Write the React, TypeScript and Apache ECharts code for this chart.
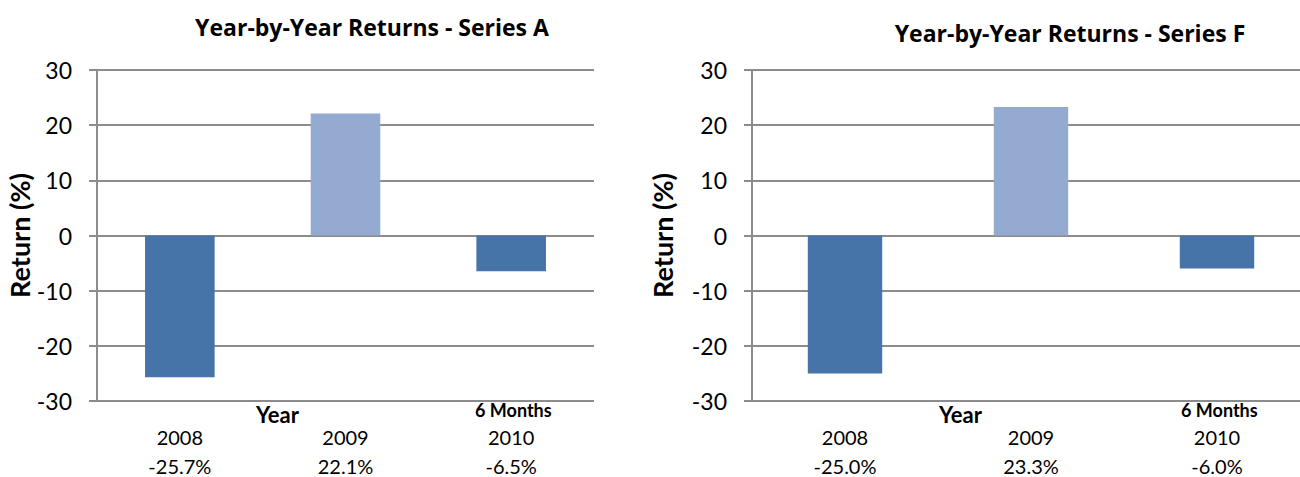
import React, { useEffect, useRef } from "react";
import * as echarts from "echarts";

const years = ["2008", "2009", "2010"];
const returnsA = [-25.7, 22.1, -6.5];
const returnsF = [-25.0, 23.3, -6.0];
const titles = ["Year-by-Year Returns - Series A", "Year-by-Year Returns - Series F"];
const yTicks = { min: -30, max: 30, interval: 10 };

const DARK = "#4673A8";
const LIGHT = "#95AAD1";
const GRID = "#8C8C8C";
const FONT = "Lato";
const TFONT = "'Open Sans'";

export default function App() {
  const ref = useRef<HTMLDivElement>(null);
  useEffect(() => {
    document.body.style.margin = "0";
    const chart = echarts.init(ref.current!, null, { renderer: "svg" });
    const grids = [
      { left: 97, top: 70, width: 497, height: 331, outerBoundsMode: "none", containLabel: false },
      { left: 752, top: 70, width: 558, height: 331, outerBoundsMode: "none", containLabel: false },
    ];
    const datasets = [returnsA, returnsF];
    const colors = [DARK, LIGHT, DARK];
    const option: any = {
      animation: false,
      textStyle: { fontFamily: FONT },
      title: [
        { text: titles[0], left: 367, top: 10, textAlign: "center", textStyle: { fontFamily: TFONT, fontSize: 23, fontWeight: "bold", color: "#000" } },
        { text: titles[1], left: 1065, top: 16, textAlign: "center", textStyle: { fontFamily: TFONT, fontSize: 23, fontWeight: "bold", color: "#000" } },
      ],
      grid: grids,
      xAxis: datasets.map((vals, i) => ({
        type: "category",
        gridIndex: i,
        data: years,
        position: "bottom",
        axisLine: { show: false },
        axisTick: { show: false },
        axisLabel: {
          margin: 21,
          fontFamily: FONT,
          fontSize: 20,
          color: "#000",
          lineHeight: 29,
          formatter: (v: string, idx: number) => `${v}\n${vals[idx].toFixed(1)}%`,
        },
      })),
      yAxis: datasets.map((_, i) => ({
        type: "value",
        gridIndex: i,
        min: yTicks.min,
        max: yTicks.max,
        interval: yTicks.interval,
        name: "Return (%)",
        nameLocation: "middle",
        nameGap: i === 0 ? 62 : 76,
        nameTextStyle: { fontFamily: FONT, fontSize: 27, fontWeight: "bold", color: "#000" },
        axisLine: { show: true, onZero: false, lineStyle: { color: GRID, width: 2 } },
        axisTick: { show: true, length: 8, lineStyle: { color: GRID, width: 2 } },
        axisLabel: { fontFamily: FONT, fontSize: 23, color: "#000", margin: 25 },
        splitLine: { show: true, lineStyle: { color: GRID, width: 2 } },
      })),
      series: datasets.map((vals, i) => ({
        type: "bar",
        xAxisIndex: i,
        yAxisIndex: i,
        barWidth: i === 0 ? "42%" : "40%",
        data: vals.map((v, j) => ({ value: v, itemStyle: { color: colors[j] } })),
      })),
      graphic: [
        { type: "text", left: 256, top: 403, style: { text: "Year", font: `bold 22px ${FONT}`, fill: "#000" } },
        { type: "text", left: 475, top: 401, style: { text: "6 Months", font: `bold 18px ${FONT}`, fill: "#000" } },
        { type: "text", left: 939, top: 403, style: { text: "Year", font: `bold 22px ${FONT}`, fill: "#000" } },
        { type: "text", left: 1181, top: 401, style: { text: "6 Months", font: `bold 18px ${FONT}`, fill: "#000" } },
      ],
    };
    chart.setOption(option);
    return () => chart.dispose();
  }, []);
  return <div ref={ref} style={{ width: 1300, height: 477 }} />;
}
